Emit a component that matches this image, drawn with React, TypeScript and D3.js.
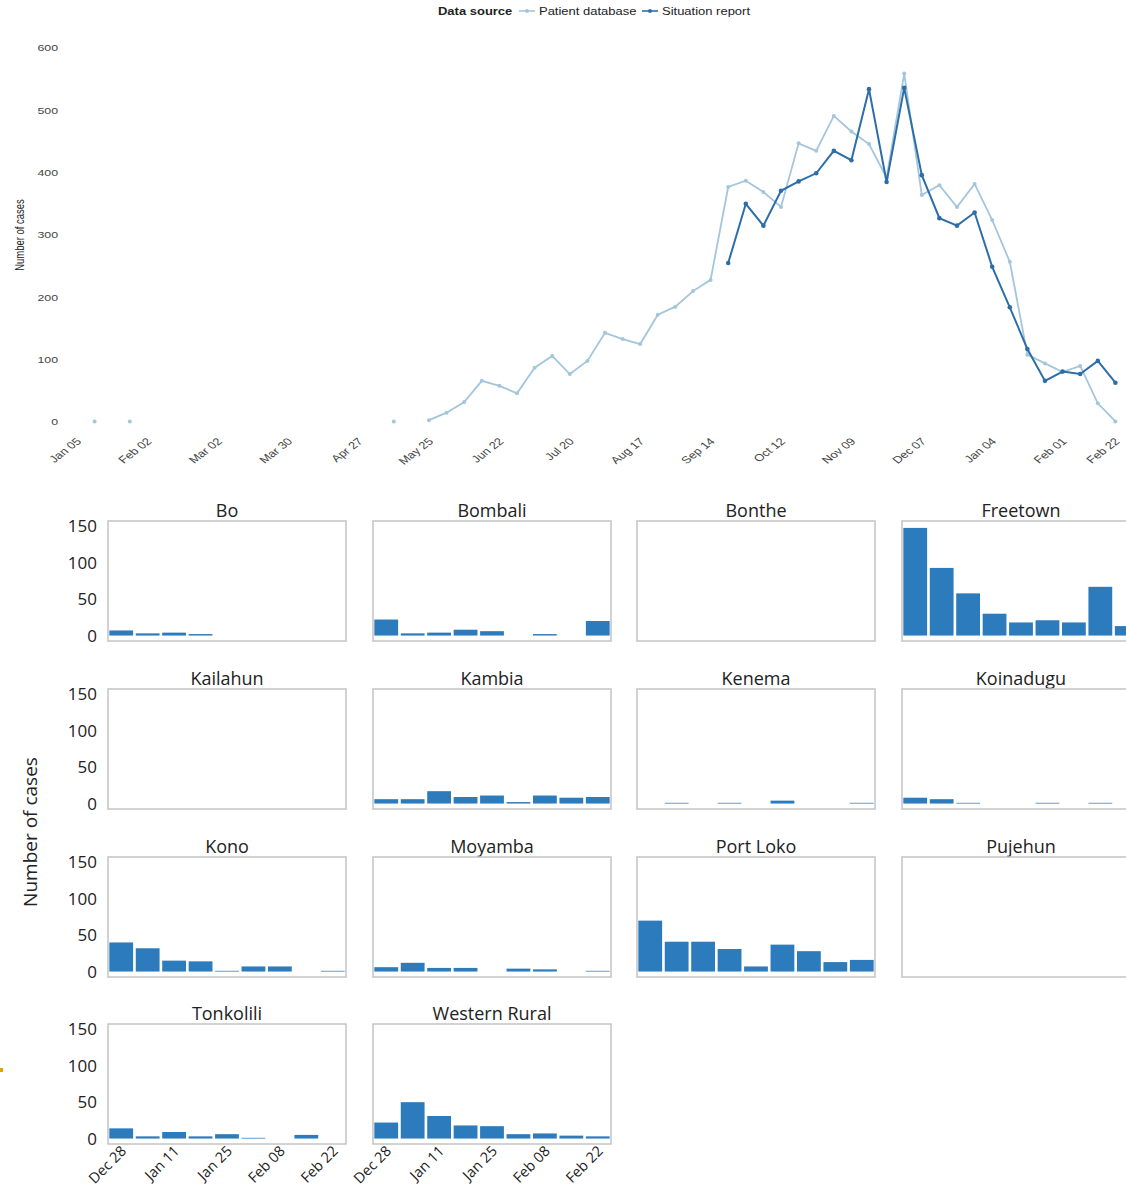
import React from "react";
import * as d3 from "d3";

// ---------- Top chart data ----------
const topTickLabels = ["Jan 05", "Feb 02", "Mar 02", "Mar 30", "Apr 27", "May 25", "Jun 22", "Jul 20", "Aug 17", "Sep 14", "Oct 12", "Nov 09", "Dec 07", "Jan 04", "Feb 01", "Feb 22"];
const topTickWeeks = [0, 4, 8, 12, 16, 20, 24, 28, 32, 36, 40, 44, 48, 52, 56, 59];
const topYTicks = [0, 100, 200, 300, 400, 500, 600];

// weekly values, week 0 = Jan 05 2014 ... week 59 = Feb 22 2015 (null = no report)
const patientDatabase: (number | null)[] = [
  null, 1, null, 1, null, null, null, null, null, null,
  null, null, null, null, null, null, null, null, 1, null,
  3, 15, 32, 66, 58, 46, 87, 106, 77, 98,
  143, 133, 125, 172, 185, 210, 228, 377, 387, 369,
  345, 447, 435, 491, 466, 446, 392, 559, 364, 380,
  345, 382, 324, 257, 108, 94, 80, 90, 30, 1,
];
const situationStartWeek = 37;
const situationReport = [255, 350, 315, 371, 386, 399, 435, 420, 534, 385, 536, 396, 327, 315, 336, 249, 184, 117, 66, 81, 77, 98, 63];

// ---------- District panels data ----------
const districts = ["Bo", "Bombali", "Bonthe", "Freetown", "Kailahun", "Kambia", "Kenema", "Koinadugu", "Kono", "Moyamba", "Port Loko", "Pujehun", "Tonkolili", "Western Rural"];
const panelWeeks = ["Dec 28", "Jan 04", "Jan 11", "Jan 18", "Jan 25", "Feb 01", "Feb 08", "Feb 15", "Feb 22"];
const panelTickWeeks = ["Dec 28", "Jan 11", "Jan 25", "Feb 08", "Feb 22"];
const panelYTicks = [0, 50, 100, 150];

const boValues = [7, 3, 4, 2, 0, 0, 0, 0, 0];
const bombaliValues = [22, 3, 4, 8, 6, 0, 2, 0, 20];
const bontheValues = [0, 0, 0, 0, 0, 0, 0, 0, 0];
const freetownValues = [148, 93, 58, 30, 18, 21, 18, 67, 13];
const kailahunValues = [0, 0, 0, 0, 0, 0, 0, 0, 0];
const kambiaValues = [6, 6, 17, 9, 11, 2, 11, 8, 9];
const kenemaValues = [0, 1, 0, 1, 0, 4, 0, 0, 1];
const koinaduguValues = [8, 6, 1, 0, 0, 1, 0, 1, 0];
const konoValues = [40, 32, 15, 14, 1, 7, 7, 0, 1];
const moyambaValues = [6, 12, 5, 5, 0, 4, 3, 0, 1];
const portLokoValues = [70, 41, 41, 31, 7, 37, 28, 13, 16];
const pujehunValues = [0, 0, 0, 0, 0, 0, 0, 0, 0];
const tonkoliliValues = [14, 3, 9, 3, 6, 1, 0, 5, 0];
const westernRuralValues = [22, 50, 31, 18, 17, 6, 7, 4, 3];

const districtValues = [boValues, bombaliValues, bontheValues, freetownValues, kailahunValues, kambiaValues, kenemaValues, koinaduguValues, konoValues, moyambaValues, portLokoValues, pujehunValues, tonkoliliValues, westernRuralValues];

const LIGHT = "#a3c6dd";
const DARK = "#2d6ea8";
const BAR = "#2b7bbd";
const SX = 1.3; // horizontal stretch of top-chart text

export default function App() {
  const W = 1126, H = 1197;
  const x = d3.scaleLinear().domain([0, 59]).range([77, 1115.4]);
  const y = d3.scaleLinear().domain([0, 600]).range([422, 48]);

  const pdPoints = patientDatabase.map((v, i) => ({ w: i, v }));
  const srPoints = situationReport.map((v, i) => ({ w: i + situationStartWeek, v }));
  const line = d3.line<{ w: number; v: number | null }>()
    .defined((d) => d.v !== null)
    .x((d) => x(d.w))
    .y((d) => y(d.v as number));

  const colX = [108, 373, 637, 902];
  const rowY = [521, 689, 857, 1024];
  const pw = 238, ph = 120;
  const topFont = "'Liberation Sans', Arial, sans-serif";
  const panelFont = "'Open Sans', 'Noto Sans', sans-serif";

  return (
    <svg width={W} height={H} style={{ position: "absolute", left: 0, top: 0, background: "#fff" }}>
      {/* legend */}
      <g fontFamily={topFont} fontSize={10} fill="#222">
        <text transform={`translate(438,15) scale(${SX},1)`} fontWeight="bold">Data source</text>
        <line x1={519} x2={535} y1={11} y2={11} stroke={LIGHT} strokeWidth={1.6} />
        <circle cx={527} cy={11} r={2} fill={LIGHT} />
        <text transform={`translate(539,15) scale(${SX},1)`}>Patient database</text>
        <line x1={642} x2={658} y1={11} y2={11} stroke={DARK} strokeWidth={1.6} />
        <circle cx={650} cy={11} r={2} fill={DARK} />
        <text transform={`translate(662,15) scale(${SX},1)`}>Situation report</text>
      </g>

      {/* y axis */}
      <g fontFamily={topFont} fontSize={9.5} fill="#444">
        {topYTicks.map((t) => (
          <text key={t} transform={`translate(58,${y(t) + 3.4}) scale(${SX},1)`} textAnchor="end">{t}</text>
        ))}
      </g>
      <text transform={`translate(24,235) scale(${SX},1) rotate(-90)`} textAnchor="middle" fontFamily={topFont} fontSize={9.5} fill="#222">Number of cases</text>

      {/* x axis labels */}
      <g fontFamily={topFont} fontSize={10} fill="#444">
        {topTickWeeks.map((w, i) => (
          <text key={i} transform={`translate(${x(w) + 5},${442}) scale(${SX},1) rotate(-45)`} textAnchor="end">{topTickLabels[i]}</text>
        ))}
      </g>

      {/* lines */}
      <path d={line(pdPoints) || ""} fill="none" stroke={LIGHT} strokeWidth={1.8} />
      {pdPoints.filter((d) => d.v !== null).map((d) => (
        <circle key={"p" + d.w} cx={x(d.w)} cy={y(d.v as number)} r={2} fill={LIGHT} />
      ))}
      <path d={line(srPoints) || ""} fill="none" stroke={DARK} strokeWidth={2} />
      {srPoints.map((d) => (
        <circle key={"s" + d.w} cx={x(d.w)} cy={y(d.v as number)} r={2.3} fill={DARK} />
      ))}

      {/* district panels */}
      {districts.map((name, k) => {
        const c = k % 4, r = Math.floor(k / 4);
        const x0 = colX[c], y0 = rowY[r];
        const bx = d3.scaleBand<string>().domain(panelWeeks).range([x0, x0 + pw]).paddingInner(0.1).paddingOuter(0.05);
        const by = d3.scaleLinear().domain([-7.5, 157.5]).range([y0 + ph, y0]);
        const vals = districtValues[k];
        const isBottom = r === 3;
        return (
          <g key={name}>
            <text x={x0 + pw / 2} y={y0 - 4} textAnchor="middle" fontFamily={panelFont} fontSize={18} fill="#222">{name}</text>
            {vals.map((v, i) => v > 0 ? (
              <rect key={i} x={bx(panelWeeks[i])} y={by(v)} width={bx.bandwidth()} height={by(0) - by(v)} fill={BAR} />
            ) : null)}
            <rect x={x0} y={y0} width={pw} height={ph} fill="none" stroke="#c4c4c4" strokeWidth={1.5} />
            {c === 0 && panelYTicks.map((t) => (
              <text key={t} x={97} y={by(t) + 6} textAnchor="end" fontFamily={panelFont} fontSize={17} fill="#222">{t}</text>
            ))}
            {isBottom && panelTickWeeks.map((wk) => (
              <text key={wk} transform={`translate(${(bx(wk) as number) + bx.bandwidth() / 2 + 6},${1152}) rotate(-45)`} textAnchor="end" fontFamily={panelFont} fontSize={14.5} fill="#222">{wk}</text>
            ))}
          </g>
        );
      })}
      <text transform="translate(37,832) rotate(-90)" textAnchor="middle" fontFamily={panelFont} fontSize={19} fill="#222">Number of cases</text>

      <rect x={0} y={1068} width={3} height={4} fill="#e0a500" />
    </svg>
  );
}
